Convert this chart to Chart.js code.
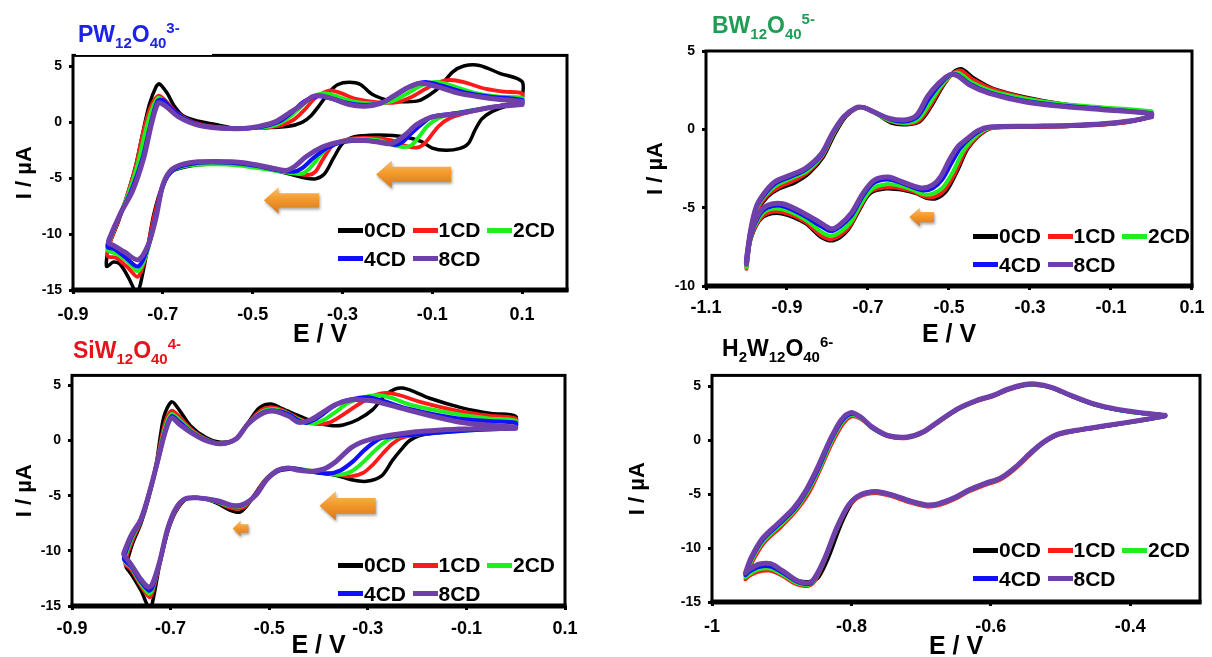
<!DOCTYPE html>
<html lang="en">
<head>
<meta charset="UTF-8">
<title>Cyclic voltammograms of Keggin tungstates with CD</title>
<script src="https://cdn.jsdelivr.net/npm/chart.js"></script>
<style>
    html, body {
        margin: 0;
        padding: 0;
        background: #fff;
        width: 1212px;
        height: 657px;
        overflow: hidden;
        font-family: 'Liberation Sans', Arial, sans-serif;
    }
    canvas { position: absolute; }
    .mask { position: absolute; background: #fff; z-index: 2; }
    .ttl {
        position: absolute;
        z-index: 3;
        font-size: 23px;
        font-weight: bold;
        line-height: 28px;
        white-space: nowrap;
    }
    .ttl .sb { position: relative; top: 6px; font-size: 15px; }
    .ttl .sp { position: relative; top: -9px; font-size: 15px; }
    .legend { position: absolute; z-index: 3; }
    .legend .row { display: flex; height: 28.5px; align-items: center; }
    .legend .item { display: flex; align-items: center; width: 74.5px; }
    .legend .swatch { width: 25px; height: 5px; margin-right: 1px; }
    .legend .txt { font-size: 21px; font-weight: bold; color: #000; }
</style>
</head>
<body>
<div class="mask" style="left:76px; top:30px; width:136px; height:25px;"></div>
<div class="mask" style="left:75px; top:350px; width:137px; height:20.5px;"></div>

<div class="ttl" style="left:78px; top:20px; color:#1c22e6;">PW<span class="sb">12</span>O<span class="sb">40</span><span class="sp">3-</span></div>
<div class="ttl" style="left:712px; top:11px; color:#1f9d55;">BW<span class="sb">12</span>O<span class="sb">40</span><span class="sp">5-</span></div>
<div class="ttl" style="left:73px; top:336px; color:#e5141c;">SiW<span class="sb">12</span>O<span class="sb">40</span><span class="sp">4-</span></div>
<div class="ttl" style="left:722px; top:334px; color:#000;">H<span class="sb">2</span>W<span class="sb">12</span>O<span class="sb">40</span><span class="sp">6-</span></div>

<canvas id="pw" width="606" height="310" style="left:0; top:40px;"></canvas>
<canvas id="bw" width="606" height="320" style="left:606px; top:30px;"></canvas>
<canvas id="siw" width="606" height="310" style="left:0; top:360px;"></canvas>
<canvas id="h2w" width="606" height="310" style="left:606px; top:360px;"></canvas>

<div class="legend" id="leg-pw" style="left:338px; top:216px;"></div>
<div class="legend" id="leg-bw" style="left:973px; top:222px;"></div>
<div class="legend" id="leg-siw" style="left:338px; top:551px;"></div>
<div class="legend" id="leg-h2w" style="left:973px; top:536px;"></div>

<script>
// series names and colours (same for all four panels)
const SERIES = ['0CD', '1CD', '2CD', '4CD', '8CD'];
const COLORS = ['#000000', '#ff1a1a', '#1ef01e', '#1010ff', '#7040aa'];
const WIDTHS = [3.5, 3.8, 4, 4.2, 5];

// tick values
const PW_X_TICKS = [-0.9, -0.7, -0.5, -0.3, -0.1, 0.1];
const PW_Y_TICKS = [5, 0, -5, -10, -15];
const BW_X_TICKS = [-1.1, -0.9, -0.7, -0.5, -0.3, -0.1, 0.1];
const BW_Y_TICKS = [5, 0, -5, -10];
const SIW_X_TICKS = [-0.9, -0.7, -0.5, -0.3, -0.1, 0.1];
const SIW_Y_TICKS = [5, 0, -5, -10, -15];
const H2W_X_TICKS = [-1, -0.8, -0.6, -0.4];
const H2W_Y_TICKS = [5, 0, -5, -10, -15];

// ---- PW12O40 3- : [E (V), I (uA)], cathodic branch then anodic branch ----
const PW_0CD = [[0.10, 2.0], [0.06, 1.4], [0.03, 0.9], [0.01, 0.3], [-0.005, -0.7], [-0.02, -1.9], [-0.04, -2.35], [-0.07, -2.5], [-0.10, -2.3], [-0.125, -1.7], [-0.16, -1.3], [-0.20, -1.15], [-0.24, -1.15], [-0.275, -1.3], [-0.30, -1.9], [-0.32, -3.2], [-0.34, -4.6], [-0.36, -5.05], [-0.38, -5.0], [-0.42, -4.6], [-0.47, -4.1], [-0.52, -3.8], [-0.58, -3.7], [-0.64, -3.9], [-0.68, -4.4], [-0.70, -5.6], [-0.72, -8.2], [-0.735, -11.5], [-0.75, -14.5], [-0.758, -15.3], [-0.775, -14.0], [-0.795, -12.7], [-0.81, -12.5], [-0.825, -12.9],
    [-0.825, -12.2], [-0.82, -11.0], [-0.80, -9.0], [-0.78, -6.6], [-0.76, -3.8], [-0.745, -1.0], [-0.73, 1.6], [-0.715, 3.2], [-0.707, 3.45], [-0.69, 2.6], [-0.675, 1.5], [-0.655, 0.6], [-0.62, 0.1], [-0.58, -0.2], [-0.54, -0.5], [-0.48, -0.5], [-0.42, -0.35], [-0.39, 0.0], [-0.37, 0.6], [-0.35, 1.6], [-0.33, 2.7], [-0.31, 3.4], [-0.285, 3.6], [-0.26, 3.4], [-0.233, 2.5], [-0.19, 1.9], [-0.16, 1.85], [-0.13, 1.95], [-0.105, 2.5], [-0.083, 3.2], [-0.055, 4.5], [-0.03, 5.05], [0.005, 5.1], [0.05, 4.4], [0.10, 3.65], [0.10, 2.0]];
const PW_1CD = [[0.10, 1.9], [0.04, 1.4], [-0.02, 0.9], [-0.06, 0.4], [-0.085, -0.3], [-0.105, -1.3], [-0.12, -2.0], [-0.135, -2.25], [-0.16, -2.1], [-0.19, -1.6], [-0.23, -1.4], [-0.28, -1.45], [-0.32, -2.0], [-0.345, -3.4], [-0.36, -4.4], [-0.375, -4.7], [-0.40, -4.6], [-0.45, -4.2], [-0.52, -3.8], [-0.58, -3.65], [-0.64, -3.8], [-0.68, -4.3], [-0.70, -5.6], [-0.72, -8.5], [-0.737, -11.8], [-0.755, -13.8], [-0.78, -12.9], [-0.805, -12.1], [-0.822, -12.0],
    [-0.822, -11.3], [-0.80, -8.9], [-0.78, -6.6], [-0.76, -3.9], [-0.745, -1.1], [-0.728, 1.3], [-0.71, 2.4], [-0.695, 2.0], [-0.67, 0.9], [-0.63, 0.0], [-0.57, -0.45], [-0.50, -0.5], [-0.44, -0.3], [-0.41, 0.2], [-0.385, 1.1], [-0.36, 2.2], [-0.33, 2.85], [-0.305, 2.65], [-0.27, 2.1], [-0.22, 1.8], [-0.18, 1.8], [-0.145, 2.3], [-0.115, 3.0], [-0.085, 3.6], [-0.06, 3.8], [-0.03, 3.6], [0.02, 3.0], [0.06, 2.75], [0.10, 2.6], [0.10, 1.9]];
const PW_2CD = [[0.10, 1.8], [0.04, 1.4], [-0.04, 0.9], [-0.085, 0.4], [-0.11, -0.3], [-0.13, -1.3], [-0.145, -2.0], [-0.16, -2.2], [-0.19, -2.0], [-0.22, -1.6], [-0.27, -1.5], [-0.31, -1.8], [-0.34, -2.5], [-0.36, -3.5], [-0.378, -4.3], [-0.392, -4.6], [-0.42, -4.5], [-0.47, -4.2], [-0.53, -3.85], [-0.59, -3.75], [-0.65, -3.9], [-0.685, -4.5], [-0.70, -5.8], [-0.718, -8.8], [-0.735, -11.6], [-0.755, -13.3], [-0.78, -12.4], [-0.805, -11.7], [-0.822, -11.5],
    [-0.822, -11.0], [-0.80, -8.7], [-0.775, -6.2], [-0.755, -3.6], [-0.74, -1.0], [-0.725, 1.1], [-0.71, 2.2], [-0.695, 1.8], [-0.67, 0.8], [-0.63, -0.1], [-0.57, -0.5], [-0.50, -0.5], [-0.45, -0.25], [-0.42, 0.4], [-0.395, 1.3], [-0.37, 2.2], [-0.345, 2.6], [-0.32, 2.45], [-0.28, 1.9], [-0.23, 1.7], [-0.19, 1.9], [-0.16, 2.5], [-0.13, 3.2], [-0.105, 3.55], [-0.085, 3.6], [-0.05, 3.2], [0.0, 2.6], [0.05, 2.3], [0.10, 2.2], [0.10, 1.8]];
const PW_4CD = [[0.10, 1.7], [0.04, 1.4], [-0.04, 0.85], [-0.10, 0.5], [-0.125, -0.2], [-0.15, -1.1], [-0.165, -1.7], [-0.182, -2.0], [-0.21, -1.8], [-0.25, -1.6], [-0.30, -1.75], [-0.335, -2.3], [-0.365, -3.2], [-0.39, -4.1], [-0.408, -4.4], [-0.44, -4.3], [-0.49, -3.9], [-0.55, -3.6], [-0.62, -3.6], [-0.675, -4.2], [-0.70, -5.7], [-0.717, -8.6], [-0.734, -11.3], [-0.755, -12.9], [-0.785, -12.0], [-0.81, -11.3], [-0.822, -11.2],
    [-0.822, -10.8], [-0.797, -8.4], [-0.77, -6.1], [-0.745, -3.2], [-0.728, -0.3], [-0.712, 1.9], [-0.70, 2.0], [-0.68, 1.2], [-0.65, 0.3], [-0.61, -0.3], [-0.55, -0.55], [-0.49, -0.45], [-0.44, 0.1], [-0.41, 1.0], [-0.385, 1.9], [-0.355, 2.35], [-0.33, 2.2], [-0.29, 1.75], [-0.25, 1.55], [-0.21, 1.8], [-0.175, 2.6], [-0.145, 3.3], [-0.115, 3.6], [-0.08, 3.3], [-0.03, 2.7], [0.03, 2.3], [0.10, 2.0], [0.10, 1.7]];
const PW_8CD = [[0.10, 1.6], [0.04, 1.4], [-0.04, 0.8], [-0.10, 0.5], [-0.135, -0.2], [-0.16, -1.1], [-0.18, -1.7], [-0.195, -1.9], [-0.23, -1.7], [-0.27, -1.6], [-0.30, -1.7], [-0.345, -2.2], [-0.382, -3.1], [-0.405, -3.9], [-0.426, -4.3], [-0.46, -4.05], [-0.52, -3.6], [-0.58, -3.5], [-0.64, -3.6], [-0.68, -4.2], [-0.70, -5.6], [-0.715, -8.5], [-0.733, -11.0], [-0.755, -12.3], [-0.785, -11.6], [-0.81, -11.0], [-0.82, -10.8],
    [-0.82, -10.5], [-0.795, -8.2], [-0.767, -6.1], [-0.742, -3.1], [-0.725, -0.1], [-0.71, 1.75], [-0.695, 1.5], [-0.665, 0.5], [-0.62, -0.25], [-0.55, -0.55], [-0.50, -0.45], [-0.45, 0.05], [-0.42, 0.8], [-0.397, 1.4], [-0.367, 2.3], [-0.35, 2.4], [-0.32, 2.1], [-0.285, 1.6], [-0.25, 1.45], [-0.215, 1.7], [-0.185, 2.4], [-0.155, 3.1], [-0.127, 3.5], [-0.09, 3.2], [-0.04, 2.6], [0.03, 2.15], [0.10, 1.85], [0.10, 1.6]];

// ---- BW12O40 5- ----
const BW_0CD = [[0.0, 0.8], [-0.05, 0.5], [-0.12, 0.3], [-0.2, 0.2], [-0.3, 0.15], [-0.39, 0.1], [-0.41, -0.1], [-0.43, -0.5], [-0.455, -1.3], [-0.48, -2.7], [-0.505, -3.9], [-0.53, -4.4], [-0.555, -4.4], [-0.58, -4.1], [-0.61, -3.9], [-0.655, -3.8], [-0.695, -4.1], [-0.72, -5.1], [-0.75, -6.45], [-0.785, -7.1], [-0.815, -6.9], [-0.855, -6.0], [-0.91, -5.4], [-0.948, -5.45], [-0.97, -5.9], [-0.99, -7.1], [-1.0, -8.8],
    [-1.0, -8.6], [-0.99, -6.7], [-0.972, -5.2], [-0.948, -4.3], [-0.92, -3.8], [-0.88, -3.4], [-0.845, -2.8], [-0.81, -1.75], [-0.783, -0.35], [-0.755, 0.8], [-0.727, 1.35], [-0.708, 1.4], [-0.68, 1.0], [-0.642, 0.4], [-0.605, 0.3], [-0.572, 0.5], [-0.544, 1.45], [-0.515, 2.75], [-0.487, 3.7], [-0.468, 3.85], [-0.44, 3.3], [-0.39, 2.6], [-0.31, 2.05], [-0.215, 1.6], [-0.12, 1.35], [0.0, 1.05], [0.0, 0.8]];
const BW_1CD = [[0.0, 0.8], [-0.05, 0.5], [-0.12, 0.3], [-0.2, 0.2], [-0.3, 0.15], [-0.39, 0.1], [-0.415, -0.15], [-0.435, -0.6], [-0.46, -1.4], [-0.485, -2.8], [-0.51, -3.85], [-0.535, -4.3], [-0.56, -4.3], [-0.585, -4.0], [-0.615, -3.8], [-0.655, -3.7], [-0.695, -4.0], [-0.72, -5.0], [-0.75, -6.35], [-0.787, -7.0], [-0.815, -6.8], [-0.855, -5.9], [-0.91, -5.3], [-0.948, -5.35], [-0.97, -5.85], [-0.99, -7.0], [-1.0, -8.9],
    [-1.0, -8.5], [-0.99, -6.65], [-0.973, -5.15], [-0.95, -4.25], [-0.92, -3.7], [-0.885, -3.3], [-0.848, -2.75], [-0.812, -1.7], [-0.785, -0.3], [-0.757, 0.8], [-0.728, 1.35], [-0.709, 1.4], [-0.68, 1.05], [-0.643, 0.5], [-0.606, 0.35], [-0.574, 0.55], [-0.546, 1.5], [-0.517, 2.75], [-0.489, 3.6], [-0.47, 3.75], [-0.442, 3.2], [-0.39, 2.55], [-0.31, 2.0], [-0.215, 1.6], [-0.12, 1.35], [0.0, 1.1], [0.0, 0.8]];
const BW_2CD = [[0.0, 0.85], [-0.05, 0.55], [-0.12, 0.35], [-0.2, 0.25], [-0.3, 0.2], [-0.395, 0.12], [-0.42, -0.15], [-0.44, -0.6], [-0.465, -1.4], [-0.49, -2.7], [-0.515, -3.7], [-0.54, -4.1], [-0.562, -4.15], [-0.59, -3.85], [-0.62, -3.6], [-0.655, -3.5], [-0.69, -3.8], [-0.717, -4.75], [-0.745, -6.0], [-0.788, -6.8], [-0.815, -6.55], [-0.855, -5.75], [-0.91, -5.1], [-0.948, -5.15], [-0.97, -5.7], [-0.99, -6.9], [-1.0, -8.8],
    [-1.0, -8.4], [-0.99, -6.55], [-0.975, -5.05], [-0.953, -4.2], [-0.925, -3.55], [-0.887, -3.1], [-0.85, -2.65], [-0.813, -1.65], [-0.786, -0.3], [-0.758, 0.8], [-0.73, 1.35], [-0.711, 1.4], [-0.683, 1.05], [-0.645, 0.55], [-0.608, 0.4], [-0.576, 0.65], [-0.549, 1.6], [-0.52, 2.75], [-0.492, 3.5], [-0.476, 3.6], [-0.447, 3.05], [-0.395, 2.45], [-0.31, 1.95], [-0.215, 1.6], [-0.12, 1.4], [0.0, 1.15], [0.0, 0.85]];
const BW_4CD = [[0.0, 0.8], [-0.05, 0.55], [-0.12, 0.35], [-0.2, 0.25], [-0.3, 0.2], [-0.4, 0.14], [-0.425, -0.12], [-0.45, -0.6], [-0.472, -1.2], [-0.495, -2.2], [-0.517, -3.2], [-0.54, -3.75], [-0.563, -3.9], [-0.59, -3.7], [-0.62, -3.4], [-0.652, -3.2], [-0.687, -3.45], [-0.715, -4.35], [-0.742, -5.55], [-0.789, -6.5], [-0.815, -6.2], [-0.855, -5.55], [-0.91, -4.9], [-0.948, -5.0], [-0.97, -5.55], [-0.99, -6.8], [-1.0, -8.5],
    [-1.0, -8.2], [-0.99, -6.5], [-0.976, -5.0], [-0.955, -4.15], [-0.928, -3.45], [-0.889, -3.0], [-0.853, -2.55], [-0.814, -1.6], [-0.787, -0.25], [-0.759, 0.8], [-0.731, 1.35], [-0.712, 1.4], [-0.684, 1.1], [-0.646, 0.65], [-0.609, 0.5], [-0.578, 0.8], [-0.551, 1.9], [-0.523, 2.85], [-0.495, 3.5], [-0.477, 3.45], [-0.449, 2.9], [-0.4, 2.35], [-0.31, 1.8], [-0.215, 1.5], [-0.12, 1.3], [0.0, 1.0], [0.0, 0.8]];
const BW_8CD = [[0.0, 0.8], [-0.05, 0.55], [-0.12, 0.35], [-0.2, 0.25], [-0.3, 0.2], [-0.4, 0.15], [-0.43, -0.1], [-0.455, -0.6], [-0.478, -1.1], [-0.50, -2.0], [-0.52, -3.0], [-0.54, -3.55], [-0.565, -3.75], [-0.59, -3.6], [-0.62, -3.3], [-0.65, -3.05], [-0.685, -3.25], [-0.713, -4.1], [-0.74, -5.3], [-0.77, -6.1], [-0.79, -6.35], [-0.815, -6.0], [-0.855, -5.4], [-0.91, -4.75], [-0.948, -4.85], [-0.97, -5.4], [-0.99, -6.7], [-1.0, -8.6],
    [-1.0, -8.3], [-0.99, -6.45], [-0.976, -4.95], [-0.957, -4.1], [-0.93, -3.35], [-0.89, -2.9], [-0.855, -2.5], [-0.815, -1.55], [-0.788, -0.25], [-0.76, 0.8], [-0.732, 1.35], [-0.713, 1.4], [-0.685, 1.1], [-0.647, 0.7], [-0.61, 0.6], [-0.58, 0.9], [-0.553, 2.1], [-0.525, 2.95], [-0.497, 3.5], [-0.478, 3.4], [-0.45, 2.85], [-0.40, 2.3], [-0.31, 1.75], [-0.215, 1.45], [-0.12, 1.25], [0.0, 1.0], [0.0, 0.8]];

// ---- SiW12O40 4- ----
const SIW_0CD = [[0.0, 1.3], [-0.06, 1.1], [-0.117, 0.9], [-0.17, 0.65], [-0.195, 0.45], [-0.215, 0.0], [-0.232, -0.8], [-0.25, -1.8], [-0.272, -3.2], [-0.303, -3.7], [-0.334, -3.55], [-0.365, -3.15], [-0.396, -2.95], [-0.43, -2.7], [-0.46, -2.6], [-0.485, -2.8], [-0.505, -3.4], [-0.525, -4.6], [-0.545, -5.9], [-0.56, -6.5], [-0.58, -6.3], [-0.605, -5.7], [-0.64, -5.2], [-0.668, -5.3], [-0.69, -6.5], [-0.706, -8.3], [-0.722, -11.2], [-0.735, -14.3], [-0.742, -15.3], [-0.76, -13.6], [-0.78, -12.1], [-0.79, -11.5],
    [-0.79, -11.25], [-0.776, -9.2], [-0.76, -7.5], [-0.745, -5.3], [-0.729, -2.1], [-0.714, 2.1], [-0.698, 3.5], [-0.683, 2.8], [-0.66, 1.35], [-0.629, 0.3], [-0.598, -0.15], [-0.567, 0.15], [-0.543, 1.6], [-0.52, 2.95], [-0.497, 3.3], [-0.474, 2.9], [-0.443, 2.3], [-0.41, 1.7], [-0.375, 1.35], [-0.35, 1.4], [-0.32, 1.9], [-0.29, 2.8], [-0.265, 4.1], [-0.245, 4.65], [-0.23, 4.75], [-0.21, 4.5], [-0.176, 3.85], [-0.109, 2.96], [-0.05, 2.45], [0.0, 2.2], [0.0, 1.3]];
const SIW_1CD = [[0.0, 1.2], [-0.06, 1.05], [-0.117, 0.88], [-0.195, 0.55], [-0.23, 0.25], [-0.25, -0.3], [-0.27, -1.2], [-0.29, -2.2], [-0.31, -2.95], [-0.334, -3.25], [-0.36, -3.1], [-0.39, -2.9], [-0.43, -2.65], [-0.46, -2.5], [-0.484, -2.75], [-0.505, -3.45], [-0.527, -4.8], [-0.55, -6.0], [-0.565, -6.2], [-0.585, -6.0], [-0.608, -5.55], [-0.644, -5.2], [-0.669, -5.3], [-0.69, -6.4], [-0.706, -8.2], [-0.722, -11.1], [-0.737, -13.8], [-0.743, -14.2], [-0.76, -13.2], [-0.78, -11.7], [-0.792, -11.2],
    [-0.792, -10.9], [-0.777, -9.0], [-0.76, -7.3], [-0.744, -5.0], [-0.728, -2.0], [-0.712, 1.5], [-0.698, 2.7], [-0.683, 2.2], [-0.66, 1.1], [-0.629, 0.15], [-0.598, -0.25], [-0.567, 0.15], [-0.543, 1.55], [-0.515, 2.8], [-0.494, 3.0], [-0.47, 2.7], [-0.44, 2.0], [-0.405, 1.5], [-0.38, 1.6], [-0.355, 2.2], [-0.325, 3.1], [-0.295, 3.9], [-0.275, 4.25], [-0.257, 4.3], [-0.235, 4.1], [-0.19, 3.45], [-0.12, 2.7], [-0.055, 2.25], [0.0, 2.0], [0.0, 1.2]];
const SIW_2CD = [[0.0, 1.15], [-0.06, 1.0], [-0.117, 0.85], [-0.2, 0.55], [-0.25, 0.25], [-0.27, -0.3], [-0.29, -1.1], [-0.31, -2.0], [-0.333, -2.8], [-0.357, -3.1], [-0.385, -2.95], [-0.43, -2.65], [-0.46, -2.5], [-0.483, -2.75], [-0.505, -3.5], [-0.527, -4.9], [-0.55, -5.85], [-0.568, -6.0], [-0.59, -5.8], [-0.61, -5.5], [-0.644, -5.2], [-0.67, -5.3], [-0.69, -6.3], [-0.706, -8.1], [-0.722, -11.0], [-0.737, -13.5], [-0.744, -13.9], [-0.76, -13.0], [-0.78, -11.5], [-0.793, -11.0],
    [-0.793, -10.7], [-0.778, -8.8], [-0.76, -7.2], [-0.742, -4.7], [-0.727, -1.9], [-0.711, 1.2], [-0.698, 2.4], [-0.683, 1.9], [-0.66, 0.95], [-0.629, 0.1], [-0.598, -0.3], [-0.567, 0.15], [-0.543, 1.5], [-0.513, 2.65], [-0.491, 2.85], [-0.465, 2.5], [-0.44, 1.9], [-0.415, 1.55], [-0.39, 1.85], [-0.365, 2.6], [-0.34, 3.4], [-0.31, 3.9], [-0.28, 4.1], [-0.255, 3.9], [-0.21, 3.2], [-0.12, 2.4], [-0.055, 2.0], [0.0, 1.8], [0.0, 1.15]];
const SIW_4CD = [[0.0, 1.1], [-0.06, 1.0], [-0.117, 0.85], [-0.2, 0.55], [-0.27, 0.25], [-0.29, -0.25], [-0.31, -1.0], [-0.33, -1.9], [-0.355, -2.7], [-0.381, -3.0], [-0.41, -2.85], [-0.435, -2.65], [-0.459, -2.5], [-0.482, -2.75], [-0.505, -3.55], [-0.528, -4.95], [-0.551, -5.8], [-0.57, -5.95], [-0.595, -5.65], [-0.62, -5.35], [-0.645, -5.2], [-0.67, -5.3], [-0.69, -6.25], [-0.706, -8.05], [-0.722, -11.0], [-0.737, -13.3], [-0.744, -13.6], [-0.76, -12.8], [-0.78, -11.4], [-0.794, -10.8],
    [-0.794, -10.5], [-0.779, -8.7], [-0.76, -7.15], [-0.742, -4.55], [-0.726, -1.85], [-0.71, 1.0], [-0.698, 2.2], [-0.683, 1.7], [-0.66, 0.85], [-0.629, 0.05], [-0.598, -0.3], [-0.567, 0.15], [-0.543, 1.5], [-0.512, 2.55], [-0.49, 2.7], [-0.462, 2.4], [-0.44, 1.8], [-0.425, 1.6], [-0.40, 2.1], [-0.375, 2.95], [-0.35, 3.55], [-0.325, 3.8], [-0.30, 3.9], [-0.27, 3.6], [-0.22, 2.9], [-0.12, 2.0], [-0.055, 1.75], [0.0, 1.6], [0.0, 1.1]];
const SIW_8CD = [[0.0, 1.1], [-0.06, 1.07], [-0.109, 1.04], [-0.21, 0.74], [-0.291, 0.15], [-0.332, -0.59], [-0.365, -1.92], [-0.39, -2.6], [-0.415, -2.8], [-0.44, -2.7], [-0.462, -2.5], [-0.483, -2.7], [-0.505, -3.55], [-0.528, -5.0], [-0.551, -5.75], [-0.574, -5.9], [-0.605, -5.45], [-0.644, -5.2], [-0.671, -5.3], [-0.69, -6.2], [-0.706, -8.0], [-0.722, -10.95], [-0.737, -13.0], [-0.745, -13.3], [-0.76, -12.6], [-0.78, -11.25], [-0.795, -10.35],
    [-0.795, -10.2], [-0.78, -8.6], [-0.76, -7.1], [-0.741, -4.4], [-0.726, -1.8], [-0.71, 0.9], [-0.698, 2.05], [-0.683, 1.5], [-0.66, 0.75], [-0.629, 0.0], [-0.598, -0.3], [-0.567, 0.15], [-0.543, 1.5], [-0.512, 2.5], [-0.489, 2.65], [-0.46, 2.2], [-0.44, 1.65], [-0.415, 1.9], [-0.39, 2.6], [-0.365, 3.26], [-0.332, 3.7], [-0.30, 3.65], [-0.284, 3.55], [-0.21, 2.66], [-0.109, 1.63], [0.0, 1.2], [0.0, 1.1]];

// ---- H2W12O40 6- : anodic branch then cathodic branch ----
const H2W_0CD = [[-0.952, -12.4], [-0.944, -11.0], [-0.927, -9.1], [-0.905, -7.75], [-0.883, -6.35], [-0.865, -4.8], [-0.848, -2.7], [-0.831, -0.3], [-0.814, 1.7], [-0.80, 2.4], [-0.786, 2.05], [-0.77, 1.2], [-0.748, 0.42], [-0.72, 0.28], [-0.698, 0.72], [-0.676, 1.65], [-0.648, 2.85], [-0.62, 3.65], [-0.597, 4.1], [-0.575, 4.7], [-0.552, 5.1], [-0.536, 5.15], [-0.513, 4.85], [-0.485, 4.1], [-0.452, 3.3], [-0.418, 2.8], [-0.385, 2.5], [-0.35, 2.3],
    [-0.35, 2.25], [-0.385, 1.85], [-0.429, 1.4], [-0.469, 1.0], [-0.502, 0.55], [-0.524, -0.2], [-0.541, -1.1], [-0.564, -2.5], [-0.586, -3.55], [-0.608, -4.05], [-0.631, -4.65], [-0.653, -5.4], [-0.676, -5.95], [-0.692, -6.05], [-0.715, -5.7], [-0.743, -5.1], [-0.765, -4.8], [-0.785, -5.05], [-0.80, -5.9], [-0.816, -8.0], [-0.833, -10.9], [-0.847, -12.7], [-0.858, -13.1], [-0.877, -13.0], [-0.899, -12.2], [-0.916, -11.7], [-0.933, -11.8], [-0.947, -12.2], [-0.952, -12.4]];
const H2W_1CD = [[-0.952, -12.9], [-0.943, -11.4], [-0.925, -9.5], [-0.902, -8.1], [-0.88, -6.6], [-0.862, -5.0], [-0.846, -2.9], [-0.829, -0.45], [-0.812, 1.5], [-0.799, 2.2], [-0.785, 1.9], [-0.77, 1.1], [-0.748, 0.35], [-0.72, 0.2], [-0.698, 0.65], [-0.676, 1.6], [-0.648, 2.8], [-0.62, 3.6], [-0.597, 4.05], [-0.575, 4.65], [-0.552, 5.05], [-0.536, 5.1], [-0.513, 4.85], [-0.485, 4.1], [-0.452, 3.3], [-0.418, 2.8], [-0.385, 2.5], [-0.35, 2.3],
    [-0.35, 2.2], [-0.385, 1.8], [-0.429, 1.35], [-0.469, 0.95], [-0.502, 0.5], [-0.524, -0.25], [-0.541, -1.2], [-0.564, -2.6], [-0.586, -3.65], [-0.608, -4.15], [-0.631, -4.75], [-0.653, -5.5], [-0.676, -6.05], [-0.692, -6.15], [-0.715, -5.8], [-0.743, -5.2], [-0.765, -4.9], [-0.787, -5.2], [-0.804, -6.15], [-0.821, -8.3], [-0.838, -11.1], [-0.852, -13.0], [-0.862, -13.5], [-0.879, -13.35], [-0.90, -12.55], [-0.917, -12.1], [-0.934, -12.2], [-0.947, -12.6], [-0.952, -12.9]];
const H2W_2CD = [[-0.952, -12.7], [-0.944, -11.25], [-0.926, -9.35], [-0.903, -7.95], [-0.881, -6.5], [-0.864, -4.9], [-0.847, -2.8], [-0.83, -0.3], [-0.813, 1.65], [-0.80, 2.35], [-0.786, 2.0], [-0.771, 1.15], [-0.748, 0.4], [-0.72, 0.25], [-0.698, 0.7], [-0.676, 1.65], [-0.648, 2.85], [-0.62, 3.65], [-0.597, 4.1], [-0.575, 4.7], [-0.552, 5.1], [-0.536, 5.15], [-0.513, 4.85], [-0.485, 4.1], [-0.452, 3.3], [-0.418, 2.8], [-0.385, 2.5], [-0.35, 2.3],
    [-0.35, 2.22], [-0.385, 1.82], [-0.429, 1.37], [-0.469, 0.97], [-0.502, 0.55], [-0.524, -0.2], [-0.541, -1.1], [-0.564, -2.5], [-0.586, -3.55], [-0.608, -4.05], [-0.631, -4.65], [-0.653, -5.4], [-0.676, -5.95], [-0.692, -6.05], [-0.715, -5.7], [-0.743, -5.1], [-0.765, -4.8], [-0.787, -5.1], [-0.804, -6.05], [-0.821, -8.2], [-0.838, -11.0], [-0.852, -12.85], [-0.861, -13.4], [-0.878, -13.25], [-0.90, -12.4], [-0.917, -11.9], [-0.934, -12.0], [-0.947, -12.45], [-0.952, -12.7]];
const H2W_4CD = [[-0.952, -12.5], [-0.944, -11.05], [-0.927, -9.2], [-0.904, -7.8], [-0.882, -6.4], [-0.865, -4.8], [-0.848, -2.7], [-0.831, -0.2], [-0.814, 1.75], [-0.80, 2.45], [-0.786, 2.1], [-0.771, 1.2], [-0.748, 0.42], [-0.72, 0.28], [-0.698, 0.72], [-0.676, 1.68], [-0.648, 2.88], [-0.62, 3.68], [-0.597, 4.12], [-0.575, 4.72], [-0.552, 5.12], [-0.536, 5.18], [-0.513, 4.88], [-0.485, 4.12], [-0.452, 3.32], [-0.418, 2.82], [-0.385, 2.52], [-0.35, 2.3],
    [-0.35, 2.24], [-0.385, 1.84], [-0.429, 1.39], [-0.469, 0.99], [-0.502, 0.58], [-0.524, -0.17], [-0.541, -1.07], [-0.564, -2.47], [-0.586, -3.52], [-0.608, -4.02], [-0.631, -4.62], [-0.653, -5.37], [-0.676, -5.92], [-0.692, -6.02], [-0.715, -5.67], [-0.743, -5.07], [-0.765, -4.77], [-0.787, -5.07], [-0.804, -6.02], [-0.821, -8.15], [-0.838, -10.95], [-0.852, -12.75], [-0.86, -13.3], [-0.877, -13.15], [-0.899, -12.25], [-0.916, -11.7], [-0.933, -11.75], [-0.947, -12.2], [-0.952, -12.5]];
const H2W_8CD = [[-0.952, -12.3], [-0.944, -10.9], [-0.927, -9.05], [-0.905, -7.7], [-0.883, -6.3], [-0.866, -4.75], [-0.849, -2.6], [-0.832, -0.15], [-0.815, 1.85], [-0.801, 2.55], [-0.787, 2.15], [-0.771, 1.25], [-0.748, 0.45], [-0.72, 0.3], [-0.698, 0.75], [-0.676, 1.7], [-0.648, 2.9], [-0.62, 3.7], [-0.597, 4.15], [-0.575, 4.75], [-0.552, 5.15], [-0.536, 5.2], [-0.513, 4.9], [-0.485, 4.15], [-0.452, 3.35], [-0.418, 2.85], [-0.385, 2.55], [-0.35, 2.3],
    [-0.35, 2.25], [-0.385, 1.85], [-0.429, 1.4], [-0.469, 1.0], [-0.502, 0.6], [-0.524, -0.15], [-0.541, -1.05], [-0.564, -2.45], [-0.586, -3.5], [-0.608, -4.0], [-0.631, -4.6], [-0.653, -5.35], [-0.676, -5.9], [-0.692, -6.0], [-0.715, -5.65], [-0.743, -5.05], [-0.765, -4.75], [-0.787, -5.05], [-0.804, -6.0], [-0.821, -8.1], [-0.838, -10.9], [-0.852, -12.7], [-0.86, -13.2], [-0.877, -13.05], [-0.899, -12.1], [-0.916, -11.45], [-0.933, -11.5], [-0.947, -12.0], [-0.952, -12.3]];

// orange shift arrows, in data units: [E left (tip), E right, I top, I bottom]
const PW_ARROWS = [[-0.225, -0.058, -3.4, -5.9], [-0.475, -0.352, -5.8, -8.15]];
const BW_ARROWS = [[-0.598, -0.537, -5.0, -6.2]];
const SIW_ARROWS = [[-0.398, -0.284, -4.6, -7.25], [-0.574, -0.542, -7.25, -8.7]];
const H2W_ARROWS = [];

Chart.defaults.font.family = "'Liberation Sans', Arial, sans-serif";
Chart.defaults.font.weight = 'bold';
Chart.defaults.color = '#000';

// thick black box round the plot area
const framePlugin = {
    id: 'frame',
    afterDatasetsDraw(chart) {
        const { ctx, chartArea: a } = chart;
        ctx.save();
        ctx.strokeStyle = '#000';
        ctx.lineWidth = 3;
        ctx.strokeRect(a.left, a.top, a.right - a.left, a.bottom - a.top);
        ctx.lineWidth = 5;
        ctx.beginPath();
        ctx.moveTo(a.left - 1.5, a.bottom);
        ctx.lineTo(a.right + 1.5, a.bottom);
        ctx.stroke();
        ctx.restore();
    }
};

function arrowPlugin(list) {
    return {
        id: 'arrows',
        afterDatasetsDraw(chart) {
            const { ctx, scales } = chart;
            list.forEach(([e0, e1, i0, i1]) => {
                const x0 = scales.x.getPixelForValue(e0);
                const x1 = scales.x.getPixelForValue(e1);
                const yT = scales.y.getPixelForValue(i0);
                const yB = scales.y.getPixelForValue(i1);
                const h = yB - yT, yc = (yT + yB) / 2;
                const head = Math.min(h * 0.56, (x1 - x0) * 0.5);
                const sh = h * 0.27;
                ctx.save();
                ctx.shadowColor = 'rgba(0,0,0,0.35)';
                ctx.shadowBlur = 3;
                ctx.shadowOffsetX = 1;
                ctx.shadowOffsetY = 2;
                const g = ctx.createLinearGradient(0, yT, 0, yB);
                g.addColorStop(0, '#f9bf6a');
                g.addColorStop(0.45, '#f39a2c');
                g.addColorStop(1, '#d9761a');
                ctx.fillStyle = g;
                ctx.beginPath();
                ctx.moveTo(x0, yc);
                ctx.lineTo(x0 + head, yT);
                ctx.lineTo(x0 + head, yc - sh);
                ctx.lineTo(x1, yc - sh);
                ctx.lineTo(x1, yc + sh);
                ctx.lineTo(x0 + head, yc + sh);
                ctx.lineTo(x0 + head, yB);
                ctx.closePath();
                ctx.fill();
                ctx.restore();
            });
        }
    };
}

function makePanel(id, p) {
    new Chart(document.getElementById(id), {
        type: 'scatter',
        data: {
            datasets: p.curves.map((pts, i) => ({
                label: SERIES[i],
                data: pts.map(([x, y]) => ({ x, y })),
                showLine: true,
                borderColor: COLORS[i],
                backgroundColor: COLORS[i],
                borderWidth: WIDTHS[i],
                borderJoinStyle: 'round',
                borderCapStyle: 'round',
                pointRadius: 0,
                tension: 0.3,
                order: 5 - i
            }))
        },
        options: {
            responsive: false,
            animation: false,
            events: [],
            layout: { padding: { left: 0, top: p.padTop, right: p.padRight, bottom: 0 } },
            plugins: { legend: { display: false }, tooltip: { enabled: false } },
            scales: {
                x: {
                    type: 'linear',
                    min: p.xMin,
                    max: p.xMax,
                    afterBuildTicks: s => { s.ticks = p.xTicks.map(v => ({ value: v })); },
                    afterFit: s => { s.height = p.xAxisH; },
                    ticks: {
                        autoSkip: false,
                        maxRotation: 0,
                        padding: p.xTickPad,
                        font: { size: 18, weight: 'bold' },
                        color: '#000',
                        callback: v => String(v)
                    },
                    grid: { drawOnChartArea: false, drawTicks: true, tickLength: 4, tickWidth: 3, tickColor: '#000' },
                    border: { display: false },
                    title: {
                        display: true,
                        text: 'E / V',
                        color: '#000',
                        font: { size: 25, weight: 'bold' },
                        padding: { top: 0, bottom: p.xTitlePad }
                    }
                },
                y: {
                    type: 'linear',
                    min: p.yMin,
                    max: p.yMax,
                    afterBuildTicks: s => { s.ticks = p.yTicks.map(v => ({ value: v })); },
                    afterFit: s => { s.width = p.yAxisW; },
                    ticks: {
                        padding: 7,
                        font: { size: 14, weight: 'bold' },
                        color: '#000',
                        callback: v => String(v)
                    },
                    grid: { drawOnChartArea: false, drawTicks: true, tickLength: 4, tickWidth: 3, tickColor: '#000' },
                    border: { display: false },
                    title: {
                        display: true,
                        text: 'I / µA',
                        color: '#000',
                        font: { size: 22, weight: 'bold' },
                        padding: { top: p.yTitlePad, bottom: 0 }
                    }
                }
            }
        },
        plugins: [framePlugin, arrowPlugin(p.arrows)]
    });
}

function makeLegend(id) {
    const box = document.getElementById(id);
    [[0, 1, 2], [3, 4]].forEach(row => {
        const r = document.createElement('div');
        r.className = 'row';
        row.forEach(i => {
            const it = document.createElement('div');
            it.className = 'item';
            it.innerHTML = '<span class="swatch" style="background:' + COLORS[i] + '"></span><span class="txt">' + SERIES[i] + '</span>';
            r.appendChild(it);
        });
        box.appendChild(r);
    });
}

makePanel('pw', {
    curves: [PW_0CD, PW_1CD, PW_2CD, PW_4CD, PW_8CD],
    xMin: -0.9, xMax: 0.2, xTicks: PW_X_TICKS,
    yMin: -15, yMax: 6, yTicks: PW_Y_TICKS,
    padTop: 15, padRight: 39, yAxisW: 73, xAxisH: 60,
    xTickPad: 10, xTitlePad: 0, yTitlePad: 11.5,
    arrows: PW_ARROWS
});
makePanel('bw', {
    curves: [BW_0CD, BW_1CD, BW_2CD, BW_4CD, BW_8CD],
    xMin: -1.1, xMax: 0.1, xTicks: BW_X_TICKS,
    yMin: -10, yMax: 5, yTicks: BW_Y_TICKS,
    padTop: 21, padRight: 13, yAxisW: 100, xAxisH: 64,
    xTickPad: 7.5, xTitlePad: 0, yTitlePad: 36.5,
    arrows: BW_ARROWS
});
makePanel('siw', {
    curves: [SIW_0CD, SIW_1CD, SIW_2CD, SIW_4CD, SIW_8CD],
    xMin: -0.9, xMax: 0.1, xTicks: SIW_X_TICKS,
    yMin: -15, yMax: 5.9, yTicks: SIW_Y_TICKS,
    padTop: 11, padRight: 41, yAxisW: 72, xAxisH: 64,
    xTickPad: 8.2, xTitlePad: 9, yTitlePad: 11.5,
    arrows: SIW_ARROWS
});
makePanel('h2w', {
    curves: [H2W_0CD, H2W_1CD, H2W_2CD, H2W_4CD, H2W_8CD],
    xMin: -1, xMax: -0.3, xTicks: H2W_X_TICKS,
    yMin: -15, yMax: 6, yTicks: H2W_Y_TICKS,
    padTop: 12, padRight: 12, yAxisW: 106, xAxisH: 68,
    xTickPad: 10.2, xTitlePad: 8, yTitlePad: 18.8,
    arrows: H2W_ARROWS
});

['leg-pw', 'leg-bw', 'leg-siw', 'leg-h2w'].forEach(makeLegend);
</script>
</body>
</html>
